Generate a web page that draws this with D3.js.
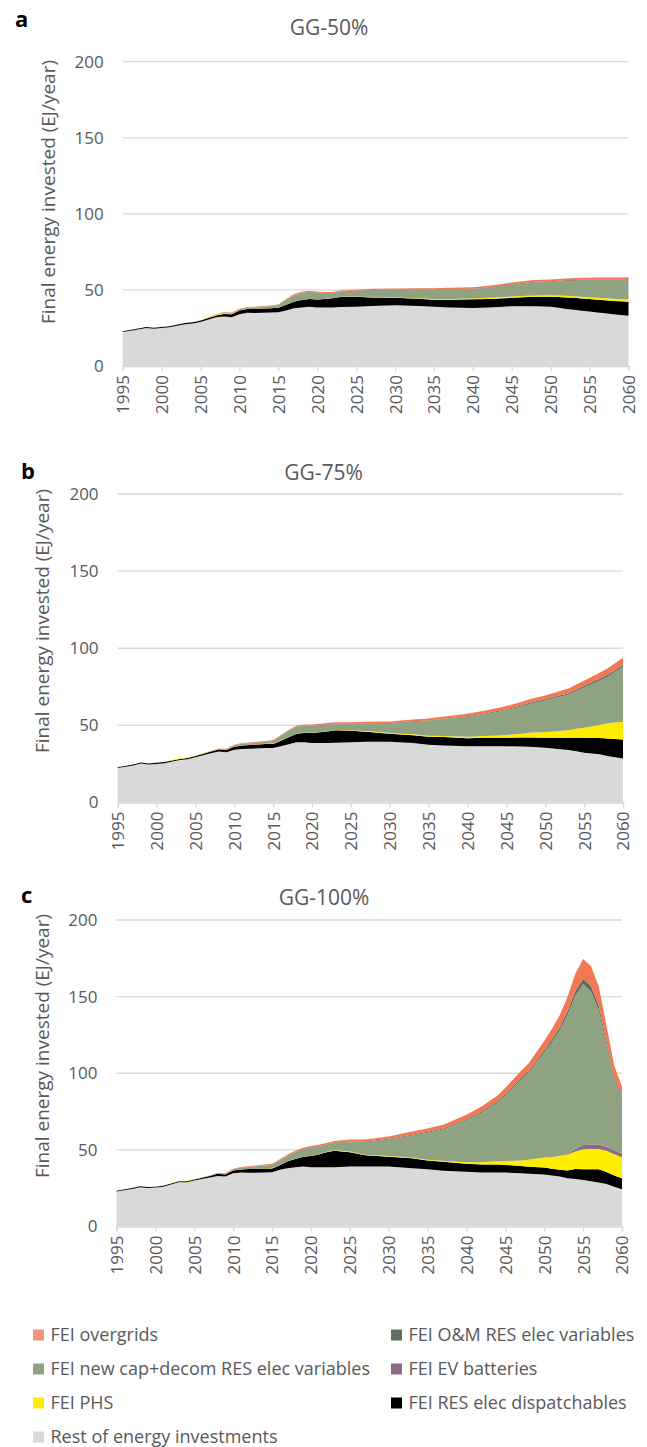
<!DOCTYPE html>
<html><head><meta charset="utf-8">
<script src="https://cdn.jsdelivr.net/npm/d3@7"></script>
<style>body{margin:0;background:#fff;} text{font-family:"Open Sans",sans-serif;}</style>
</head><body><svg id="chart" width="647" height="1447"></svg>
<script>
// Categories (years)
const years = [1995,1997,1998,1999,2000,2001,2003,2004,2005,2007,2008,2009,2010,2011,2012,2014,2015,2016,2017,2018,2019,2020,2021,2022,2023,2025,2027,2030,2033,2035,2037,2040,2042,2044,2045,2047,2048,2050,2051,2052,2053,2054,2055,2056,2057,2058,2059,2060];
const xTickYears = [1995,2000,2005,2010,2015,2020,2025,2030,2035,2040,2045,2050,2055,2060];
const yTicks = [0,50,100,150,200];

// Panel a: GG-50%
const aRest = [22.3,24,25,24.5,25,25.5, 27.5,28,29,32,32.5,32, 34,35,34.8,35.2,35.3,36.5, 38,38.5,39,38.5,38.5,38.5, 38.8,39,39.5,40,39.5,39, 38.5,38.2,38.5,39,39.3,39.3, 39.3,39,38.3,37.5,37,36.3, 35.8,35.2,34.6,34,33.5,33];
const aDisp = [0.6,0.6,0.7,0.7,0.7,0.7, 0.8,0.8,0.9,1.2,1.6,2, 2.5,2.5,2.6,2.8,3,3.8, 4.2,4.8,5,5.2,5.6,6, 6.5,6.5,5.5,4.9,4.7,4.6, 5,5.6,5.6,5.5,5.5,6, 6.2,6.5,7,7.5,7.8,8, 8.2,8.4,8.6,8.8,9,9.3];
const aPHS = [0,0,0,0,0,0, 0,0,0.1,0.5,0.6,0.3, 0.2,0.1,0.1,0.1,0.1,0.1, 0.1,0.1,0.1,0.1,0.1,0.1, 0.2,0.2,0.3,0.3,0.4,0.5, 0.5,0.6,0.7,0.8,0.8,0.9, 0.9,1,1,1.1,1.1,1.2, 1.2,1.3,1.3,1.4,1.4,1.5];
const aEV = [0,0,0,0,0,0, 0,0,0,0,0,0, 0,0,0,0,0,0, 0,0,0,0,0,0, 0,0,0,0,0,0, 0,0,0,0,0,0, 0,0,0,0,0,0, 0,0,0,0,0,0];
const aNewCap = [0,0,0,0,0,0, 0,0,0,0,0.2,0.3, 0.5,0.8,1,1.3,1.5,3, 4,4.5,4.5,4.3,3.6,3.2, 3.2,3.5,4.3,4.7,5.3,5.8, 6.1,6,6.6,7.3,7.6,8.2, 8.5,8.8,9.3,9.8,10.2,10.7, 11,11.4,11.8,12.1,12.4,12.7];
const aOM = [0,0,0,0,0,0, 0,0,0,0,0,0, 0,0,0,0,0.1,0.1, 0.1,0.2,0.2,0.2,0.2,0.2, 0.2,0.2,0.3,0.3,0.3,0.3, 0.3,0.3,0.3,0.4,0.4,0.4, 0.4,0.4,0.4,0.4,0.5,0.5, 0.5,0.5,0.5,0.5,0.5,0.5];
const aOvergrids = [0,0,0,0,0,0, 0,0,0.1,0.3,0.5,0.5, 0.5,0.4,0.4,0.4,0.5,0.6, 0.7,0.7,0.7,0.6,0.6,0.6, 0.7,0.7,0.8,0.8,0.9,0.9, 1,1,1,1.1,1.2,1.2, 1.2,1.2,1.2,1.2,1.3,1.3, 1.3,1.3,1.4,1.4,1.4,1.4];

// Panel b: GG-75%
const bRest = [22.3,24,25.3,24.7,25,25.5, 27.5,28,29.3,32,33,32.5, 34.2,34.7,34.8,35.3,35.4,36.5, 37.8,39,39,38.5,38.5,38.5, 38.8,39,39.4,39.4,38.6,37.5, 37,36.4,36.4,36.4,36.4,36.3, 36.2,35.5,35,34.5,34,33.2, 32.3,31.8,31.3,30.2,29.3,28.6];
const bDisp = [0.6,0.6,0.6,0.6,0.7,0.7, 0.7,0.8,0.8,1,1.3,1.5, 2,2.3,2.5,2.6,2.6,3.5, 4.5,5.5,6,6.5,7,7.5, 8,7.5,6.5,5.2,5,5.2, 5.4,5.3,5.5,5.6,5.6,5.8, 6,6.4,6.9,7.4,7.9,8.8, 9.6,10,10.5,11.3,11.8,12.3];
const bPHS = [0,0,0,0,0,0, 0.6,0.5,0.3,0.2,0.1,0.1, 0.1,0.1,0.1,0.2,0.3,0.3, 0.2,0.2,0.2,0.2,0.2,0.2, 0.2,0.3,0.4,0.5,0.6,0.6, 0.7,0.9,1.2,1.5,1.8,2.5, 3,3.8,4.2,4.6,5,5.8, 6.5,7.5,8.5,9.8,10.8,11.4];
const bEV = [0,0,0,0,0,0, 0,0,0,0,0,0, 0,0,0,0,0,0, 0,0,0,0,0,0, 0,0,0,0,0,0, 0,0,0,0,0,0, 0,0,0,0,0,0, 0,0,0,0,0,0];
const bNewCap = [0,0,0,0,0,0, 0,0,0,0,0.3,0.5, 0.8,1,1,1.2,1.5,2.8, 3.8,4.3,4.5,4.5,4.3,4, 3.8,4.1,4.8,6.1,8,9.5, 10.8,12.8,14,15.4,16.1,17.8, 18.7,20.4,21.3,22.2,23.1,24.6, 26.2,27.5,28.8,30.1,32.8,35.5];
const bOM = [0,0,0,0,0,0, 0,0,0,0,0,0, 0,0,0,0,0.1,0.1, 0.2,0.2,0.2,0.2,0.2,0.3, 0.3,0.3,0.3,0.3,0.4,0.4, 0.4,0.5,0.5,0.6,0.6,0.7, 0.7,0.8,0.8,0.9,0.9,1, 1,1.1,1.1,1.2,1.2,1.3];
const bOvergrids = [0,0,0,0,0,0, 0.1,0.1,0.1,0.2,0.3,0.3, 0.3,0.4,0.5,0.6,0.6,0.5, 0.5,0.6,0.6,0.6,0.8,1, 0.9,0.8,0.9,1,1.2,1.3, 1.4,1.6,1.8,1.9,2,2.2, 2.3,2.5,2.6,2.8,3,3.1, 3.3,3.6,3.9,4.3,4.6,4.8];

// Panel c: GG-100%
const cRest = [22.8,24.5,25.6,25.2,25.4,26, 28.9,28.9,30,32,33,32.6, 34.8,35.2,35,35.3,35.4,37, 38,38.6,39.1,38.7,38.7,38.7, 38.7,39.1,39.1,39.1,38,37.4, 36.3,35.7,35.2,35.2,35.2,34.8, 34.5,33.9,33.2,32.6,31.5,31, 30.4,29.5,28.7,27.8,26,24.3];
const cDisp = [0.6,0.6,0.6,0.6,0.6,0.6, 0.6,0.7,0.7,1,1.5,1.4, 1.7,2,2.5,2.6,2.5,3, 4.5,5.4,6.4,7.3,8.3,9.8, 10.8,9.4,7.4,6.4,6.5,5.6, 6,5.3,5.3,5.3,5,4.7, 4.5,4.6,4.5,4.4,5,6.5, 7,7.8,8.6,7.7,7.2,7.2];
const cPHS = [0,0,0,0,0,0, 0.3,0.2,0.1,0,0,0, 0,0,0,0.1,0.2,0.2, 0.2,0.2,0.2,0.2,0.2,0.2, 0.3,0.4,0.3,0.5,0.5,0.5, 0.6,1,1.5,2,2.5,3.6, 4.5,6.5,7.5,9,10.5,11.5, 13,13.2,13.2,14,14,13.7];
const cEV = [0,0,0,0,0,0, 0,0,0,0,0,0, 0,0,0,0,0,0, 0,0,0,0,0,0, 0,0,0,0,0,0, 0,0,0,0,0,0, 0,0,0,0,0.4,1.5, 2.8,2.9,2.8,2.7,2.6,2.5];
const cNewCap = [0,0,0,0,0,0, 0,0,0,0,0.2,0.3, 0.8,1.2,1.3,1.8,2.2,2.9, 3.3,4.2,4.6,5.1,4.8,4.5, 4.5,6.1,8,10.7,14.4,17.7, 20.4,27.3,32.4,38.4,42.8,52.7, 56.8,68.5,75,82,90.6,100, 104.8,100.1,88.2,66.6,46.2,36.8];
const cOM = [0,0,0,0,0,0, 0,0,0,0,0,0, 0,0,0,0,0.1,0.15, 0.2,0.2,0.25,0.3,0.3,0.3, 0.35,0.4,0.45,0.5,0.55,0.6, 0.65,0.7,0.8,0.9,1,1.1, 1.2,1.5,1.8,2,2.5,3, 3.5,3.5,3,2.2,1.5,1];
const cOvergrids = [0,0,0,0,0,0, 0,0,0.1,0.2,0.4,0.4, 0.4,0.5,0.5,0.6,0.6,0.7, 0.8,0.9,0.9,0.9,1,1, 1.1,1.3,1.5,1.6,2,2.2, 2.5,3,3.3,3.7,4,4.6, 5,6,7,8,9.5,11.5, 13,13,12.5,10,7.5,5.5];

// Legend labels
const legendLabels = ["FEI overgrids","FEI O&M RES elec variables","FEI new cap+decom RES elec variables","FEI EV batteries","FEI PHS","FEI RES elec dispatchables","Rest of energy investments"];
const legendKeys = ["overgrids","om","newcap","ev","phs","disp","rest"];

const keys = ["rest","disp","phs","ev","newcap","om","overgrids"];
const colors = {rest:"#D9D9D9", disp:"#000000", phs:"#FFED00", ev:"#8C6B8A", newcap:"#8FA382", om:"#616D61", overgrids:"#F07853"};
const legendColors = {rest:"#D9D9D9", disp:"#000000", phs:"#FFED00", ev:"#8C6B8A", newcap:"#8FA382", om:"#616D61", overgrids:"#F4937A"};

const panels = [
  {letter:"a", title:"GG-50%", series:{rest:aRest,disp:aDisp,phs:aPHS,ev:aEV,newcap:aNewCap,om:aOM,overgrids:aOvergrids},
   left:122.7,right:628.5,top:61.7,bottom:366, titleX:329,titleY:35, letterX:15,letterY:27, ylabX:48, ylabY:192},
  {letter:"b", title:"GG-75%", series:{rest:bRest,disp:bDisp,phs:bPHS,ev:bEV,newcap:bNewCap,om:bOM,overgrids:bOvergrids},
   left:117.6,right:623,top:494,bottom:802.5, titleX:323.5,titleY:480, letterX:21,letterY:479, ylabX:42.5, ylabY:621},
  {letter:"c", title:"GG-100%", series:{rest:cRest,disp:cDisp,phs:cPHS,ev:cEV,newcap:cNewCap,om:cOM,overgrids:cOvergrids},
   left:116.5,right:622,top:920,bottom:1226.5, titleX:324,titleY:905, letterX:21,letterY:903, ylabX:42.5, ylabY:1046}
];

const svg = d3.select("#chart");
svg.append("rect").attr("width",647).attr("height",1447).attr("fill","#fff");
const textColor = "#595959";

panels.forEach(p => {
  const x = d3.scaleLinear().domain([1995,2060]).range([p.left,p.right]);
  const y = d3.scaleLinear().domain([0,200]).range([p.bottom,p.top]);
  const rows = years.map((yr,i) => { const r = {year:yr}; keys.forEach(k => r[k] = p.series[k][i]); return r; });
  const stacked = d3.stack().keys(keys)(rows);
  const g = svg.append("g");

  // gridlines
  g.append("g").selectAll("line").data(yTicks.filter(t => t>0)).join("line")
    .attr("x1",p.left).attr("x2",p.right).attr("y1",d=>y(d)).attr("y2",d=>y(d))
    .attr("stroke","#D9D9D9").attr("stroke-width",1.3);

  // areas
  const area = d3.area().x(d=>x(d.data.year)).y0(d=>y(d[0])).y1(d=>y(d[1]));
  g.append("g").selectAll("path").data(stacked).join("path")
    .attr("d",area).attr("fill",d=>colors[d.key]);

  // y axis
  const ya = g.append("g").attr("transform",`translate(${p.left},0)`)
    .call(d3.axisLeft(y).tickValues(yTicks).tickSize(0).tickPadding(19));
  ya.select(".domain").remove();
  ya.selectAll("text").attr("fill",textColor).style("font-size","17px").style("font-family","'Open Sans',sans-serif");

  // x axis
  const xa = g.append("g").attr("transform",`translate(0,${p.bottom})`)
    .call(d3.axisBottom(x).tickValues(xTickYears).tickSize(5).tickFormat(d3.format("d")));
  xa.select(".domain").attr("stroke","#D9D9D9").attr("stroke-width",1.3);
  xa.selectAll(".tick line").attr("stroke","#D9D9D9").attr("stroke-width",1.3);
  xa.selectAll("text").attr("fill",textColor).style("font-size","17px").style("font-family","'Open Sans',sans-serif")
    .attr("transform","rotate(-90)").attr("text-anchor","end").attr("x",-9).attr("y",0).attr("dy","0.35em");

  // title
  svg.append("text").attr("x",p.titleX).attr("y",p.titleY).attr("text-anchor","middle")
    .attr("fill",textColor).style("font-size","21px").text(p.title);
  // letter
  svg.append("text").attr("x",p.letterX).attr("y",p.letterY)
    .attr("fill","#000").style("font-size","22px").style("font-weight","bold").text(p.letter);
  // y label
  svg.append("text").attr("transform",`translate(${p.ylabX},${p.ylabY}) rotate(-90)`)
    .attr("text-anchor","middle").attr("dy","0.35em")
    .attr("fill",textColor).style("font-size","19px").text("Final energy invested (EJ/year)");
});

// legend
const legRowY = [1335,1369,1403,1437];
const legColX = [33,391];
const leg = svg.append("g");
legendKeys.forEach((k,i) => {
  const col = i % 2, row = Math.floor(i/2);
  const gx = legColX[col], gy = legRowY[row];
  leg.append("rect").attr("x",gx).attr("y",gy-5.5).attr("width",11).attr("height",11).attr("fill",legendColors[k]);
  leg.append("text").attr("x",gx+17.5).attr("y",gy).attr("dy","0.35em")
    .attr("fill",textColor).style("font-size","18px").text(legendLabels[i]);
});
</script>
</body></html>
